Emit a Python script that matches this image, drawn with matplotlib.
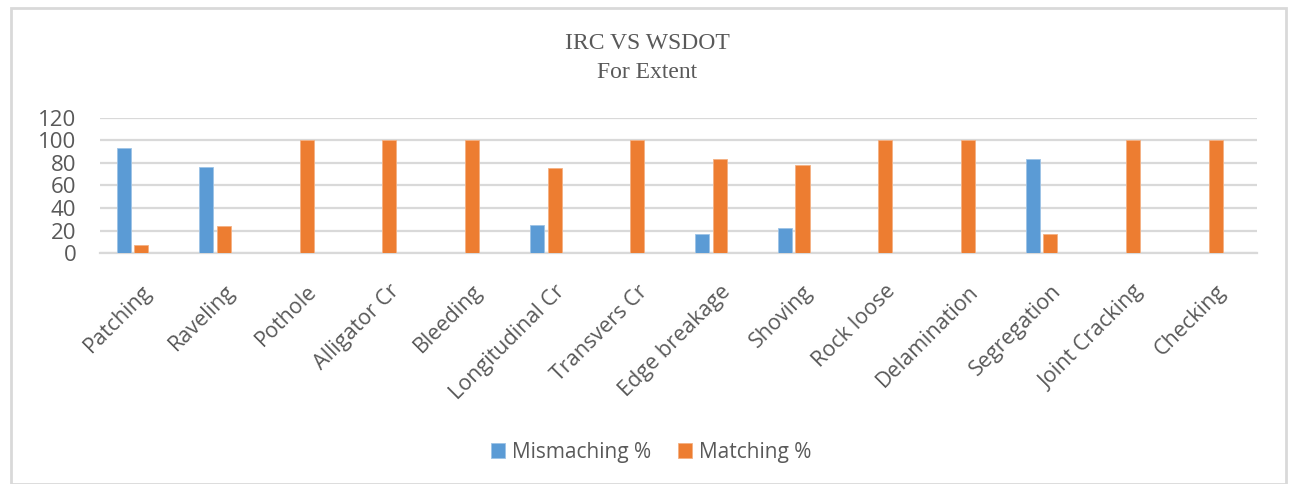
import matplotlib
matplotlib.use('Agg')
import matplotlib.pyplot as plt
from matplotlib.patches import Rectangle
import numpy as np

# Data
categories = ['Patching', 'Raveling', 'Pothole', 'Alligator Cr', 'Bleeding',
              'Longitudinal Cr', 'Transvers Cr', 'Edge breakage', 'Shoving',
              'Rock loose', 'Delamination', 'Segregation', 'Joint Cracking', 'Checking']
mismatching = [93, 76, 0, 0, 0, 25, 0, 17, 22, 0, 0, 83, 0, 0]
matching = [7, 24, 100, 100, 100, 75, 100, 83, 78, 100, 100, 17, 100, 100]

blue = '#5b9bd5'
orange = '#ed7d31'
grey_txt = '#595959'
grid_col = '#d9d9d9'

fig = plt.figure(figsize=(12.89, 4.84), dpi=100)
ax = fig.add_axes([0.0776, 0.477, 0.8976, 0.280])

x = np.arange(len(categories))
w = 0.17
ax.bar(x - 0.215, mismatching, width=w, color=blue, edgecolor='#9dc3e6', linewidth=0.6,
       label='Mismaching %', zorder=3)
ax.bar(x, matching, width=w, color=orange, edgecolor='#f4b183', linewidth=0.6,
       label='Matching %', zorder=3)

ax.set_xlim(-0.5, len(categories) - 0.5)
ax.set_ylim(0, 120)
ax.set_yticks(range(0, 121, 20))
ax.yaxis.grid(True, color=grid_col, linewidth=1.6, zorder=0)
ax.set_axisbelow(True)
for s in ['top', 'right', 'left']:
    ax.spines[s].set_visible(False)
ax.spines['bottom'].set_color(grid_col)
ax.spines['bottom'].set_linewidth(1.6)
ax.tick_params(axis='both', length=0)
ax.tick_params(axis='y', labelsize=16, labelcolor=grey_txt, pad=17)
ax.set_xticks(x)
ax.set_xticklabels(categories, rotation=45, ha='right', rotation_mode='anchor',
                   fontsize=15.5, color=grey_txt, family='Open Sans')
ax.tick_params(axis='x', pad=20)
for lbl in ax.get_yticklabels():
    lbl.set_family('Open Sans')

fig.text(0.502, 0.911, 'IRC VS WSDOT', ha='center', va='center', fontsize=17,
         family='Liberation Serif', color=grey_txt)
fig.text(0.502, 0.851, 'For Extent', ha='center', va='center', fontsize=17,
         family='Liberation Serif', color=grey_txt)

leg = fig.legend(loc='center', bbox_to_anchor=(0.505, 0.066), ncol=2, frameon=False,
                 prop={'family': 'Open Sans', 'size': 15}, handlelength=0.7,
                 handleheight=0.7, handletextpad=0.3, columnspacing=1.3)
for t in leg.get_texts():
    t.set_color(grey_txt)

# outer chart border
fig.patches.append(Rectangle((0.0085, 0.0), 0.989, 0.983, transform=fig.transFigure,
                             fill=False, edgecolor='#d9d9d9', linewidth=2))

fig.savefig('out.png', dpi=100)
